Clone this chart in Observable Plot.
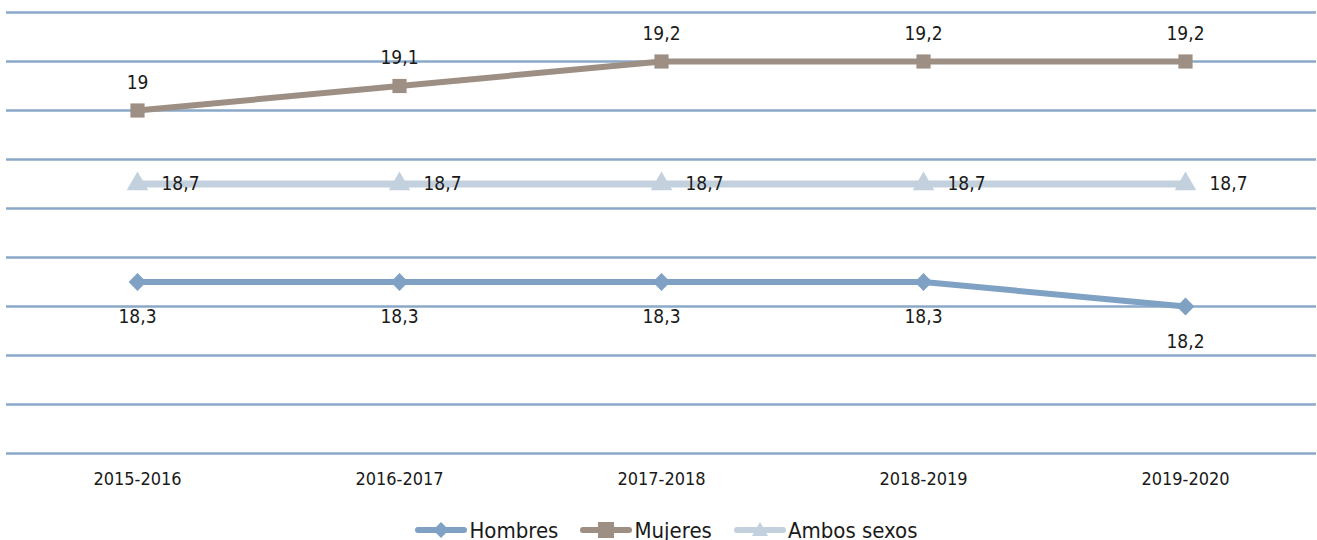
<!DOCTYPE html>
<html><head><meta charset="utf-8">
<script src="https://cdn.jsdelivr.net/npm/d3@7"></script>
<script src="https://cdn.jsdelivr.net/npm/@observablehq/plot@0.6"></script>
<style>
body{margin:0;background:#fff;font-family:"Liberation Sans Narrow","DejaVu Sans Condensed","Roboto",sans-serif;}
#legend{display:flex;justify-content:center;align-items:center;gap:22px;font-size:22px;color:#1a1a1a;height:30px;margin-top:5px;margin-left:16px}
#legend .it{display:flex;align-items:center;gap:2px}
</style></head><body>
<div id="chart"></div>
<div id="legend"></div>
<script>
const years = ["2015-2016","2016-2017","2017-2018","2018-2019","2019-2020"];
const hombres = [18.3,18.3,18.3,18.3,18.2];
const mujeres = [19.0,19.1,19.2,19.2,19.2];
const ambos = [18.7,18.7,18.7,18.7,18.7];
const gridTicks = [17.6,17.8,18.0,18.2,18.4,18.6,18.8,19.0,19.2,19.4];
const seriesNames = ["Hombres","Mujeres","Ambos sexos"];
const colors = ["#7fa1c4","#9e8f84","#c3d0dd"];

const fmt = v => String(v).replace(".", ",");
const rows = [];
[hombres, mujeres, ambos].forEach((arr, i) => arr.forEach((v, j) => rows.push({s: seriesNames[i], x: years[j], y: v})));
const H = rows.filter(d => d.s === "Hombres"), M = rows.filter(d => d.s === "Mujeres"), A = rows.filter(d => d.s === "Ambos sexos");

const font = "'Liberation Sans Narrow','DejaVu Sans Condensed','Roboto',sans-serif";
const chart = Plot.plot({
  width: 1317, height: 510,
  marginLeft: 6, marginRight: 1, marginTop: 12, marginBottom: 57,
  style: {fontFamily: font, fontSize: "18px", color: "#1a1a1a", background: "#fff"},
  x: {type: "point", domain: years, padding: 0.5, label: null, tickSize: 0, tickPadding: 19},
  y: {domain: [17.6, 19.4], axis: null},
  marks: [
    Plot.ruleY(gridTicks, {stroke: "#8aa9c8", strokeWidth: 2.5}),
    Plot.line(A, {x: "x", y: "y", stroke: colors[2], strokeWidth: 7}),
    Plot.line(H, {x: "x", y: "y", stroke: colors[0], strokeWidth: 6}),
    Plot.line(M, {x: "x", y: "y", stroke: colors[1], strokeWidth: 6}),
    Plot.dot(A, {x: "x", y: "y", symbol: () => "triangle", fill: colors[2], r: 8}),
    Plot.dot(H, {x: "x", y: "y", symbol: () => "diamond2", fill: colors[0], r: 8}),
    Plot.dot(M, {x: "x", y: "y", symbol: () => "square", fill: colors[1], r: 8}),
    Plot.text(M, {x: "x", y: "y", text: d => fmt(d.y), dy: -28, fontSize: 19, fill: "#1a1a1a"}),
    Plot.text(A, {x: "x", y: "y", text: d => fmt(d.y), dx: 24, textAnchor: "start", fontSize: 19, fill: "#1a1a1a"}),
    Plot.text(H, {x: "x", y: "y", text: d => fmt(d.y), dy: 35, fontSize: 19, fill: "#1a1a1a"})
  ]
});
document.getElementById("chart").appendChild(chart);

const leg = document.getElementById("legend");
seriesNames.forEach((n, i) => {
  const it = document.createElement("div"); it.className = "it";
  const sym = i === 0 ? '<path d="M26,7 L34,15 L26,23 L18,15Z"/>' :
              i === 1 ? '<rect x="18" y="7" width="16" height="16"/>' :
                        '<path d="M26,7 L34,21 L18,21Z"/>';
  it.innerHTML = `<svg width="52" height="30"><line x1="3" x2="49" y1="15" y2="15" stroke="${colors[i]}" stroke-width="6" stroke-linecap="round"/><g fill="${colors[i]}">${sym}</g></svg><span>${n}</span>`;
  leg.appendChild(it);
});
</script>
</body></html>
